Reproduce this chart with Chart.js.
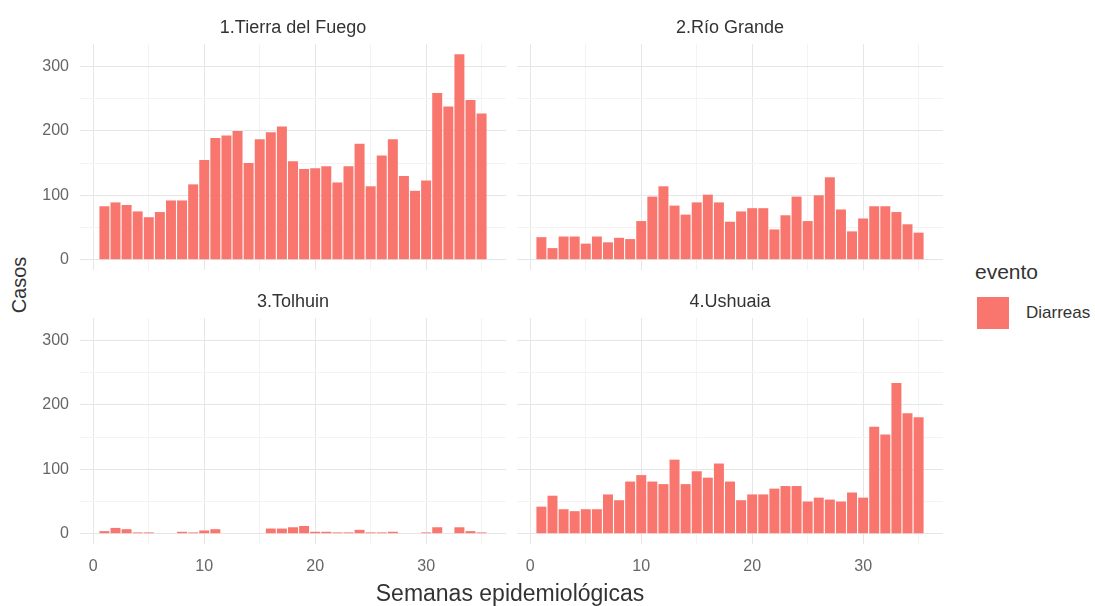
<!DOCTYPE html>
<html>
<head>
<meta charset="utf-8">
<script src="https://cdn.jsdelivr.net/npm/chart.js@4.4.1/dist/chart.umd.min.js"></script>
<style>
  body { margin: 0; background: #fff; font-family: "Liberation Sans", Arial, sans-serif; }
  #wrap { position: relative; width: 1095px; height: 606px; overflow: hidden; }
  canvas { position: absolute; }
  .txt { position: absolute; color: #333; white-space: nowrap; }
</style>
</head>
<body>
<div id="wrap">
  <canvas id="p1" width="466" height="253" style="left:40px;top:17px"></canvas>
  <canvas id="p2" width="426" height="253" style="left:517px;top:17px"></canvas>
  <canvas id="p3" width="466" height="293" style="left:40px;top:291px"></canvas>
  <canvas id="p4" width="426" height="293" style="left:517px;top:291px"></canvas>

  <div class="txt" style="left:19px;top:285px;font-size:20px;transform:translate(-50%,-50%) rotate(-90deg)">Casos</div>
  <div class="txt" style="left:510px;top:593px;font-size:23px;transform:translate(-50%,-50%)">Semanas epidemiológicas</div>

  <div class="txt" style="left:975px;top:272px;font-size:21px;transform:translateY(-50%)">evento</div>
  <div style="position:absolute;left:977px;top:297px;width:32px;height:32px;background:#F8766D"></div>
  <div class="txt" style="left:1026px;top:313px;font-size:17px;transform:translateY(-50%)">Diarreas</div>
</div>

<script>
// semanas epidemiológicas 1..35
const semanas = [1, 2, 3, 4, 5, 6, 7, 8, 9, 10, 11, 12, 13, 14, 15, 16, 17, 18,
                 19, 20, 21, 22, 23, 24, 25, 26, 27, 28, 29, 30, 31, 32, 33, 34, 35];

// casos de diarreas por semana
const tierraDelFuego = [83, 89, 85, 75, 66, 74, 92, 92, 117, 155, 189, 193, 200, 150, 187, 198, 207, 153,
                        141, 142, 145, 120, 145, 180, 114, 162, 187, 130, 107, 123, 259, 238, 319, 248, 227];
const rioGrande = [35, 18, 36, 36, 25, 36, 27, 34, 32, 60, 98, 114, 84, 70, 89, 101, 89, 59,
                   75, 80, 80, 47, 69, 98, 60, 100, 128, 78, 44, 64, 83, 83, 74, 55, 42];
const ushuaia = [42, 59, 38, 35, 38, 38, 61, 52, 81, 91, 81, 77, 115, 77, 97, 87, 109, 81,
                 52, 61, 61, 70, 74, 74, 50, 56, 53, 50, 64, 56, 166, 154, 234, 187, 181];
// Tolhuin solo tiene algunas semanas con casos
const tolhuinSemanas = [1, 2, 3, 4, 5, 8, 9, 10, 11, 16, 17, 18, 19, 20, 21, 22, 23, 24, 25, 26, 27, 30, 31, 33, 34, 35];
const tolhuin = [4, 9, 7, 2, 2, 3, 2, 5, 7, 8, 8, 10, 12, 3, 3, 2, 2, 6, 2, 2, 3, 2, 10, 10, 4, 2];

const yMajor = [0, 100, 200, 300];
const yMinor = [50, 150, 250];
const xMajor = [0, 10, 20, 30];
const xMinor = [5, 15, 25, 35];

const BAR = '#F8766D';

function gridColor(c) {
    if (!c.tick) return '#ebebeb';
    const major = c.scale.axis === 'x' ? xMajor.includes(c.tick.value) : yMajor.includes(c.tick.value);
    return major ? '#e6e6e6' : '#f3f3f3';
}

function makePanel(id, weeks, values, title, showY, showX) {
    const ctx = document.getElementById(id).getContext('2d');
    new Chart(ctx, {
        type: 'bar',
        data: {
            datasets: [{
                label: 'Diarreas',
                data: weeks.map((w, i) => ({ x: w, y: values[i] })),
                backgroundColor: BAR,
                borderWidth: 0,
                barPercentage: 0.9,
                categoryPercentage: 1.0
            }]
        },
        options: {
            responsive: false,
            animation: false,
            events: [],
            layout: { padding: 0 },
            plugins: {
                legend: { display: false },
                tooltip: { enabled: false },
                title: {
                    display: true,
                    fullSize: false,
                    text: title,
                    color: '#333',
                    font: { family: 'Liberation Sans', size: 18, weight: 'normal', lineHeight: 1 },
                    padding: { top: 2, bottom: 7 }
                }
            },
            scales: {
                x: {
                    type: 'linear',
                    min: -1.2,
                    max: 37.2,
                    offset: false,
                    afterBuildTicks: s => { s.ticks = xMajor.concat(xMinor).sort((a, b) => a - b).map(v => ({ value: v })); },
                    afterFit: s => {
                        s.height = showX ? 40 : 0;
                        s.paddingLeft = 0; s.paddingRight = 0;
                    },
                    ticks: {
                        display: showX,
                        autoSkip: false,
                        maxRotation: 0,
                        padding: 13,
                        color: '#666',
                        font: { family: 'Liberation Sans', size: 16 },
                        callback: v => xMajor.includes(v) ? String(v) : ''
                    },
                    grid: { color: gridColor, lineWidth: 1, drawTicks: false, offset: false },
                    border: { display: false }
                },
                y: {
                    min: -16,
                    max: 335,
                    afterBuildTicks: s => { s.ticks = yMajor.concat(yMinor).sort((a, b) => a - b).map(v => ({ value: v })); },
                    afterFit: s => {
                        s.width = showY ? 40 : 0;
                        s.paddingTop = 0; s.paddingBottom = 0;
                    },
                    ticks: {
                        display: showY,
                        autoSkip: false,
                        padding: 11,
                        color: '#666',
                        font: { family: 'Liberation Sans', size: 16 },
                        callback: v => yMajor.includes(v) ? String(v) : ''
                    },
                    grid: { color: gridColor, lineWidth: 1, drawTicks: false },
                    border: { display: false }
                }
            }
        }
    });
}

makePanel('p1', semanas, tierraDelFuego, '1.Tierra del Fuego', true, false);
makePanel('p2', semanas, rioGrande, '2.Río Grande', false, false);
makePanel('p3', tolhuinSemanas, tolhuin, '3.Tolhuin', true, true);
makePanel('p4', semanas, ushuaia, '4.Ushuaia', false, true);
</script>
</body>
</html>
